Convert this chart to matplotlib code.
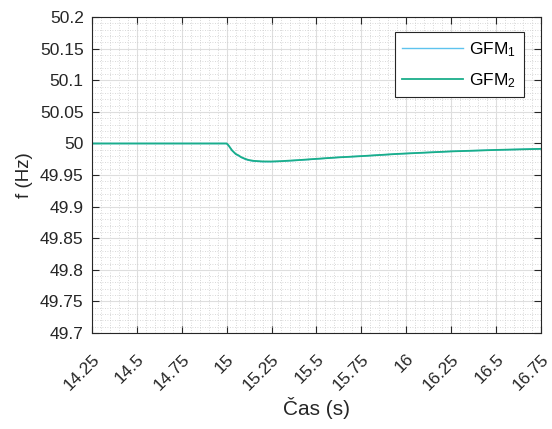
import numpy as np
import matplotlib
matplotlib.use("Agg")
import matplotlib.pyplot as plt
import matplotlib.transforms as mtransforms
from matplotlib.ticker import MultipleLocator

plt.rcParams['font.family'] = ['Liberation Sans', 'DejaVu Sans']
plt.rcParams['mathtext.fontset'] = 'custom'
plt.rcParams['mathtext.rm'] = 'Liberation Sans'
plt.rcParams['mathtext.it'] = 'Liberation Sans'

# time (s) and frequency (Hz)
t = [14.25, 14.5, 14.75, 15.0, 15.01, 15.02, 15.03, 15.05, 15.067, 15.08, 15.1,
     15.12, 15.15, 15.2, 15.25, 15.3, 15.4, 15.5, 15.62, 15.75, 15.95, 16.1,
     16.25, 16.5, 16.75]
f_gfm1 = [50.0, 50.0, 50.0, 50.0, 49.997, 49.993, 49.989, 49.983, 49.9805, 49.978,
          49.9755, 49.9735, 49.972, 49.9712, 49.9712, 49.9718, 49.9735, 49.9755,
          49.978, 49.980, 49.9835, 49.9855, 49.9875, 49.9898, 49.9915]
f_gfm2 = [50.0, 50.0, 50.0, 50.0, 49.997, 49.993, 49.989, 49.9835, 49.981, 49.9785,
          49.976, 49.974, 49.9725, 49.9716, 49.9715, 49.972, 49.9737, 49.9757,
          49.978, 49.980, 49.9835, 49.9855, 49.9875, 49.9898, 49.9915]

xticks = [14.25, 14.5, 14.75, 15, 15.25, 15.5, 15.75, 16, 16.25, 16.5, 16.75]
xticklabels = ['14.25', '14.5', '14.75', '15', '15.25', '15.5', '15.75', '16',
               '16.25', '16.5', '16.75']
yticks = [49.7, 49.75, 49.8, 49.85, 49.9, 49.95, 50, 50.05, 50.1, 50.15, 50.2]
yticklabels = ['49.7', '49.75', '49.8', '49.85', '49.9', '49.95', '50', '50.05',
               '50.1', '50.15', '50.2']

fig = plt.figure(figsize=(5.52, 4.29), dpi=100)
ax = fig.add_axes([0.1667, 0.2238, 0.8133, 0.7362])

ax.plot(t, f_gfm1, color='#5EC3EE', lw=1.0, label=r'GFM$_1$')
ax.plot(t, f_gfm2, color='#1AAE8A', lw=1.3, label=r'GFM$_2$')

ax.set_xlim(14.25, 16.75)
ax.set_ylim(49.7, 50.2)
ax.set_xticks(xticks)
ax.set_xticklabels(xticklabels, rotation=45, ha='right', va='center',
                   rotation_mode='anchor', fontsize=12)
ax.set_yticks(yticks)
ax.set_yticklabels(yticklabels)
ax.xaxis.set_minor_locator(MultipleLocator(0.05))
ax.yaxis.set_minor_locator(MultipleLocator(0.01))

ax.grid(which='major', color='#DEDEDE', lw=0.8)
ax.grid(which='minor', color='#CCCCCC', lw=0.6, linestyle=(0, (1, 2)))
ax.set_axisbelow(True)

ax.tick_params(which='major', direction='in', length=5, top=True, right=True,
               labelsize=12.5, colors='#262626', width=0.8)
ax.tick_params(axis='y', pad=6)
ax.tick_params(axis='x', pad=17)
ax.tick_params(which='minor', length=0)
# shift rotated x labels a bit to the right, as in the original
shift = mtransforms.ScaledTranslation(5 / 100, 0, fig.dpi_scale_trans)
for lab in ax.get_xticklabels():
    lab.set_transform(lab.get_transform() + shift)
for s in ax.spines.values():
    s.set_color('#262626')
    s.set_linewidth(0.8)

ax.set_xlabel('Čas (s)', fontsize=15, color='#262626', labelpad=3)
ax.set_ylabel('f (Hz)', fontsize=13.5, color='#262626', labelpad=5)

leg = ax.legend(loc='upper right', fontsize=12.5, fancybox=False,
                edgecolor='#262626', framealpha=1, handlelength=3.5,
                handletextpad=0.35, bbox_to_anchor=(0.962, 0.9525),
                borderaxespad=0, borderpad=0.45, labelspacing=0.7)
leg.get_frame().set_linewidth(0.8)

fig.savefig('out.png', dpi=100)
